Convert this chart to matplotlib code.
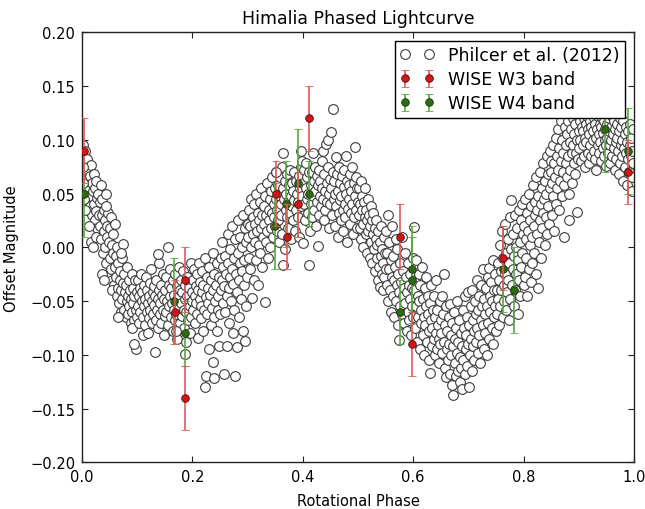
import matplotlib
matplotlib.use('Agg')
import matplotlib.pyplot as plt
import numpy as np

# Philcer et al. (2012) points as (phase, offset mag)
philcer = [
    (0.002,0.095),(0.003,0.080),(0.004,0.068),(0.005,0.058),(0.006,0.090),(0.007,0.072),(0.008,0.063),(0.009,0.050),(0.010,0.082),(0.011,0.045),
    (0.012,0.070),(0.013,0.056),(0.014,0.038),(0.015,0.066),(0.016,0.077),(0.017,0.048),(0.018,0.030),(0.019,0.060),(0.020,0.052),(0.021,0.068),
    (0.022,0.040),(0.023,0.025),(0.024,0.055),(0.025,0.034),(0.026,0.062),(0.027,0.046),(0.028,0.018),(0.029,0.050),(0.030,0.030),(0.003,0.045),
    (0.006,0.035),(0.012,0.020),(0.016,0.005),(0.020,0.000),(0.025,0.010),(0.001,0.060),(0.002,0.075),
    (0.032,0.042),(0.033,0.020),(0.034,0.058),(0.035,0.008),(0.036,0.030),(0.037,0.045),(0.038,-0.005),(0.039,0.015),(0.040,0.035),(0.041,0.025),
    (0.042,0.000),(0.043,0.050),(0.044,-0.015),(0.045,0.020),(0.046,0.010),(0.047,0.032),(0.048,-0.025),(0.049,0.005),(0.050,0.018),(0.051,-0.010),
    (0.052,0.028),(0.053,-0.020),(0.054,0.002),(0.055,-0.030),(0.056,0.012),(0.057,-0.005),(0.058,-0.035),(0.059,0.022),(0.060,-0.018),(0.036,-0.025),
    (0.044,0.038),(0.040,-0.030),(0.054,-0.040),
    (0.061,-0.008),(0.062,-0.028),(0.063,-0.045),(0.064,0.000),(0.065,-0.038),(0.066,-0.015),(0.067,-0.052),(0.068,-0.030),(0.069,-0.022),(0.070,-0.060),
    (0.071,-0.040),(0.072,-0.010),(0.073,-0.048),(0.074,-0.033),(0.075,0.003),(0.076,-0.058),(0.077,-0.025),(0.078,-0.042),(0.079,-0.065),(0.080,-0.035),
    (0.081,-0.050),(0.082,-0.018),(0.083,-0.045),(0.084,-0.062),(0.085,-0.030),(0.086,-0.055),(0.087,-0.040),(0.088,-0.070),(0.089,-0.048),(0.090,-0.025),
    (0.091,-0.060),(0.092,-0.038),(0.093,-0.052),(0.094,-0.068),(0.095,-0.045),(0.096,-0.030),(0.097,-0.058),(0.098,-0.095),(0.099,-0.042),(0.100,-0.065),
    (0.095,-0.090),(0.090,-0.075),(0.070,-0.005),(0.066,-0.065),
    (0.101,-0.030),(0.102,-0.055),(0.103,-0.045),(0.104,-0.070),(0.105,-0.038),(0.106,-0.060),(0.107,-0.025),(0.108,-0.050),(0.109,-0.042),(0.110,-0.065),
    (0.111,-0.082),(0.112,-0.035),(0.113,-0.055),(0.114,-0.048),(0.115,-0.072),(0.116,-0.028),(0.117,-0.060),(0.118,-0.040),(0.119,-0.052),(0.120,-0.080),
    (0.121,-0.045),(0.122,-0.066),(0.123,-0.033),(0.124,-0.058),(0.125,-0.020),(0.126,-0.050),(0.127,-0.070),(0.128,-0.042),(0.129,-0.062),(0.130,-0.036),
    (0.131,-0.054),(0.132,-0.097),(0.133,-0.045),(0.134,-0.068),(0.135,-0.030),(0.136,-0.058),(0.137,-0.048),(0.138,-0.075),(0.139,-0.040),(0.140,-0.015),
    (0.141,-0.062),(0.142,-0.052),(0.143,-0.035),(0.144,-0.070),(0.145,-0.044),(0.146,-0.025),(0.147,-0.058),(0.148,-0.082),(0.149,-0.048),(0.150,-0.064),
    (0.137,-0.006),(0.155,0.000),
    (0.151,-0.040),(0.152,-0.028),(0.153,-0.060),(0.154,-0.050),(0.156,-0.072),(0.157,-0.035),(0.158,-0.055),(0.159,-0.045),(0.160,-0.020),(0.161,-0.065),
    (0.162,-0.038),(0.163,-0.052),(0.164,-0.078),(0.165,-0.030),(0.166,-0.058),(0.167,-0.044),(0.168,-0.068),(0.169,-0.025),(0.170,-0.050),(0.171,-0.062),
    (0.172,-0.036),(0.173,-0.085),(0.174,-0.046),(0.175,-0.018),(0.176,-0.056),(0.177,-0.040),(0.178,-0.070),(0.179,-0.030),(0.180,-0.052),(0.181,-0.064),
    (0.182,-0.042),(0.183,-0.022),(0.184,-0.058),(0.185,-0.075),(0.186,-0.048),(0.187,-0.035),(0.188,-0.088),(0.189,-0.060),(0.190,-0.045),(0.191,-0.028),
    (0.192,-0.068),(0.193,-0.052),(0.194,-0.038),(0.195,-0.080),(0.196,-0.055),(0.197,-0.015),(0.198,-0.065),(0.199,-0.042),(0.200,-0.050),(0.186,-0.099),
    (0.170,-0.078),
    (0.201,-0.030),(0.202,-0.058),(0.203,-0.020),(0.204,-0.045),(0.205,-0.070),(0.206,-0.036),(0.207,-0.052),(0.208,-0.025),(0.209,-0.062),(0.210,-0.040),
    (0.211,-0.084),(0.212,-0.015),(0.213,-0.048),(0.214,-0.032),(0.215,-0.066),(0.216,-0.055),(0.217,-0.022),(0.218,-0.042),(0.219,-0.078),(0.220,-0.035),
    (0.221,-0.058),(0.222,-0.130),(0.223,-0.010),(0.224,-0.046),(0.225,-0.120),(0.226,-0.028),(0.227,-0.062),(0.228,-0.038),(0.229,-0.052),(0.230,-0.095),
    (0.231,-0.018),(0.232,-0.044),(0.233,-0.072),(0.234,-0.030),(0.240,-0.122),(0.236,-0.056),(0.237,-0.040),(0.238,-0.005),(0.239,-0.065),(0.240,-0.025),
    (0.241,-0.050),(0.237,-0.107),(0.243,-0.035),(0.244,-0.078),(0.245,-0.015),(0.246,-0.058),(0.247,-0.045),(0.248,-0.092),(0.249,-0.028),(0.250,-0.062),
    (0.251,-0.010),(0.252,-0.040),(0.253,0.005),(0.254,-0.030),(0.255,-0.052),(0.256,-0.018),(0.257,-0.118),(0.258,-0.036),(0.259,-0.008),(0.260,-0.060),
    (0.261,-0.025),(0.262,-0.092),(0.263,-0.045),(0.264,0.012),(0.265,-0.015),(0.266,-0.038),(0.267,-0.070),(0.268,-0.002),(0.269,-0.028),(0.270,-0.050),
    (0.271,0.020),(0.272,-0.020),(0.273,-0.080),(0.274,-0.034),(0.275,-0.010),(0.276,-0.058),(0.277,-0.120),(0.278,0.008),(0.279,-0.025),(0.280,-0.093),
    (0.281,-0.042),(0.282,-0.005),(0.283,0.025),(0.284,-0.030),(0.285,-0.065),(0.286,-0.015),(0.287,0.010),(0.288,-0.048),(0.289,-0.022),(0.290,0.000),
    (0.291,-0.078),(0.292,0.030),(0.293,-0.035),(0.294,-0.012),(0.295,0.018),(0.296,-0.087),(0.297,-0.055),(0.298,0.005),(0.299,-0.028),(0.300,0.022),
    (0.301,0.010),(0.302,-0.010),(0.303,0.035),(0.304,0.020),(0.305,-0.020),(0.306,0.045),(0.307,0.000),(0.308,-0.047),(0.309,0.028),(0.310,0.012),
    (0.311,-0.030),(0.312,0.040),(0.313,0.005),(0.314,0.022),(0.315,-0.012),(0.316,0.050),(0.317,0.015),(0.318,-0.035),(0.319,0.032),(0.320,0.002),
    (0.321,0.025),(0.322,0.042),(0.323,-0.005),(0.324,0.018),(0.325,0.055),(0.326,0.030),(0.327,-0.018),(0.328,0.010),(0.329,0.038),(0.330,0.022),
    (0.331,-0.051),(0.332,0.048),(0.333,0.005),(0.334,0.030),(0.335,0.015),(0.336,0.060),(0.337,-0.010),(0.338,0.035),(0.339,0.025),(0.340,0.045),
    (0.341,0.000),(0.342,0.052),(0.343,0.018),(0.344,0.032),(0.345,0.065),(0.346,0.010),(0.347,0.040),(0.348,0.028),(0.349,0.055),(0.350,0.020),
    (0.351,0.045),(0.352,0.070),(0.353,0.015),(0.354,0.035),(0.355,0.058),(0.356,0.025),(0.357,0.005),(0.358,0.048),(0.359,0.065),(0.360,0.030),
    (0.361,0.040),(0.362,0.012),(0.363,0.075),(0.364,0.055),(0.365,-0.016),(0.366,0.045),(0.367,0.062),(0.368,-0.002),(0.369,0.035),(0.370,0.050),
    (0.371,0.028),(0.372,0.068),(0.373,0.042),(0.374,0.018),(0.375,0.058),(0.376,0.032),(0.377,0.072),(0.378,0.048),(0.379,0.008),(0.380,0.038),
    (0.381,0.060),(0.382,0.025),(0.383,0.052),(0.384,0.044),(0.385,0.070),(0.386,0.015),(0.387,0.035),(0.388,0.062),(0.396,0.090),(0.390,0.050),
    (0.391,0.028),(0.392,0.042),(0.393,0.066),(0.394,0.010),(0.395,0.055),(0.396,0.038),(0.397,0.075),(0.398,0.080),(0.399,0.048),(0.400,0.004),
    (0.401,0.060),(0.402,0.040),(0.403,0.072),(0.404,0.025),(0.405,0.055),(0.406,0.078),(0.407,0.045),(0.408,0.065),(0.409,0.032),(0.410,0.050),
    (0.411,0.070),(0.412,-0.016),(0.413,0.015),(0.414,0.058),(0.415,0.040),(0.416,0.070),(0.417,0.028),(0.418,0.088),(0.419,0.048),(0.420,0.062),
    (0.421,0.035),(0.422,0.075),(0.423,0.052),(0.424,0.020),(0.425,0.066),(0.426,0.042),(0.427,0.001),(0.428,0.058),(0.429,0.030),(0.430,0.072),
    (0.431,0.048),(0.432,0.062),(0.433,0.038),(0.434,0.055),(0.435,0.080),(0.436,0.090),(0.437,0.045),(0.438,0.025),(0.439,0.068),(0.440,0.052),
    (0.441,0.035),(0.442,0.096),(0.443,0.060),(0.444,0.042),(0.445,0.100),(0.446,0.075),(0.447,0.050),(0.448,0.018),(0.449,0.064),(0.450,0.040),
    (0.451,0.107),(0.454,0.129),
    (0.452,0.055),(0.453,0.030),(0.455,0.070),(0.456,0.045),(0.457,0.062),(0.458,0.020),(0.459,0.050),(0.460,0.084),(0.461,0.038),(0.462,0.068),
    (0.463,0.010),(0.464,0.052),(0.465,0.032),(0.466,0.075),(0.467,0.044),(0.468,0.060),(0.469,0.025),(0.470,0.048),(0.471,0.066),(0.472,0.035),
    (0.473,0.015),(0.474,0.056),(0.475,0.072),(0.476,0.040),(0.477,0.028),(0.478,0.085),(0.479,0.050),(0.480,0.062),(0.481,0.005),(0.482,0.036),
    (0.483,0.058),(0.484,0.045),(0.485,0.022),(0.486,0.068),(0.487,0.032),(0.488,0.052),(0.489,0.040),(0.490,0.075),(0.491,0.012),(0.492,0.060),
    (0.493,0.028),(0.494,0.093),(0.495,0.048),(0.496,0.035),(0.497,0.065),(0.498,0.018),(0.499,0.055),(0.500,0.042),(0.352,0.070),(0.365,0.088),
    (0.501,0.030),(0.502,0.055),(0.503,0.018),(0.504,0.040),(0.505,0.062),(0.506,0.008),(0.507,0.035),(0.508,0.048),(0.509,0.022),(0.510,0.000),
    (0.511,0.042),(0.512,0.028),(0.513,0.055),(0.514,0.012),(0.515,0.035),(0.516,-0.005),(0.517,0.025),(0.518,0.045),(0.519,0.015),(0.520,0.030),
    (0.521,-0.010),(0.522,0.020),(0.523,0.038),(0.524,0.005),(0.525,0.025),(0.526,-0.015),(0.527,0.012),(0.528,0.032),(0.529,-0.002),(0.530,0.018),
    (0.531,-0.022),(0.532,0.008),(0.533,0.025),(0.534,-0.010),(0.535,0.002),(0.536,-0.030),(0.537,0.015),(0.538,-0.018),(0.539,-0.037),(0.540,0.005),
    (0.541,-0.008),(0.542,0.020),(0.543,-0.025),(0.544,-0.002),(0.545,-0.040),(0.546,-0.015),(0.547,0.010),(0.548,-0.028),(0.549,-0.005),(0.550,-0.020),
    (0.551,0.015),(0.552,-0.035),(0.553,-0.005),(0.554,0.030),(0.555,-0.050),(0.556,-0.020),(0.557,0.005),(0.558,-0.040),(0.559,-0.012),(0.560,-0.060),
    (0.561,-0.028),(0.562,0.020),(0.563,-0.045),(0.564,-0.008),(0.565,-0.030),(0.566,-0.065),(0.567,-0.018),(0.568,0.008),(0.569,-0.050),(0.570,-0.035),
    (0.571,-0.002),(0.572,-0.072),(0.573,-0.025),(0.574,-0.042),(0.575,-0.086),(0.576,-0.015),(0.577,-0.055),(0.578,-0.032),(0.579,0.010),(0.580,-0.062),
    (0.581,-0.045),(0.582,-0.022),(0.583,-0.070),(0.584,-0.038),(0.585,-0.005),(0.586,-0.052),(0.587,-0.028),(0.588,-0.078),(0.589,-0.042),(0.590,-0.015),
    (0.591,-0.060),(0.592,-0.035),(0.593,-0.068),(0.594,-0.048),(0.595,-0.025),(0.596,-0.082),(0.597,-0.055),(0.598,-0.038),(0.599,-0.010),(0.600,-0.065),
    (0.601,-0.040),(0.602,0.019),(0.603,-0.075),(0.604,-0.030),(0.605,-0.055),(0.606,-0.012),(0.607,-0.088),(0.608,-0.045),(0.609,-0.065),(0.610,-0.025),
    (0.611,-0.050),(0.612,-0.095),(0.613,-0.035),(0.614,-0.070),(0.615,-0.058),(0.616,-0.018),(0.617,-0.082),(0.618,-0.048),(0.619,-0.065),(0.620,-0.100),
    (0.621,-0.038),(0.622,-0.072),(0.623,-0.055),(0.624,-0.028),(0.625,-0.088),(0.626,-0.062),(0.627,-0.045),(0.628,-0.078),(0.629,-0.105),(0.630,-0.117),
    (0.631,-0.052),(0.632,-0.068),(0.633,-0.035),(0.634,-0.092),(0.635,-0.075),(0.636,-0.058),(0.637,-0.085),(0.638,-0.045),(0.639,-0.100),(0.640,-0.065),
    (0.641,-0.080),(0.642,-0.030),(0.643,-0.095),(0.644,-0.058),(0.645,-0.072),(0.646,-0.108),(0.647,-0.085),(0.648,-0.050),(0.649,-0.090),(0.650,-0.068),
    (0.651,-0.080),(0.652,-0.045),(0.653,-0.098),(0.654,-0.062),(0.655,-0.025),(0.656,-0.088),(0.657,-0.112),(0.658,-0.072),(0.659,-0.055),(0.660,-0.121),
    (0.661,-0.095),(0.662,-0.078),(0.663,-0.105),(0.664,-0.065),(0.665,-0.090),(0.666,-0.118),(0.667,-0.053),(0.668,-0.082),(0.669,-0.100),(0.670,-0.070),
    (0.671,-0.128),(0.672,-0.092),(0.673,-0.137),(0.674,-0.060),(0.675,-0.108),(0.676,-0.085),(0.677,-0.120),(0.678,-0.075),(0.679,-0.098),(0.680,-0.050),
    (0.681,-0.115),(0.682,-0.088),(0.683,-0.068),(0.684,-0.125),(0.685,-0.102),(0.686,-0.080),(0.687,-0.112),(0.688,-0.132),(0.689,-0.092),(0.690,-0.058),
    (0.691,-0.105),(0.692,-0.075),(0.693,-0.118),(0.694,-0.045),(0.695,-0.095),(0.696,-0.082),(0.697,-0.110),(0.698,-0.065),(0.699,-0.042),(0.700,-0.090),
    (0.701,-0.130),(0.702,-0.072),(0.703,-0.100),(0.704,-0.055),(0.705,-0.085),(0.706,-0.115),(0.707,-0.040),(0.708,-0.068),(0.709,-0.092),(0.710,-0.078),
    (0.711,-0.105),(0.712,-0.050),(0.713,-0.062),(0.714,-0.088),(0.715,-0.030),(0.716,-0.075),(0.717,-0.098),(0.718,-0.058),(0.719,-0.082),(0.720,-0.045),
    (0.721,-0.108),(0.722,-0.068),(0.723,-0.035),(0.724,-0.090),(0.725,-0.055),(0.726,-0.072),(0.727,-0.020),(0.728,-0.095),(0.729,-0.048),(0.730,-0.062),
    (0.731,-0.080),(0.732,-0.038),(0.733,-0.100),(0.734,-0.055),(0.735,-0.070),(0.736,-0.028),(0.737,-0.019),(0.738,-0.085),(0.739,-0.045),(0.740,-0.060),
    (0.741,-0.032),(0.742,-0.075),(0.743,-0.050),(0.744,-0.012),(0.745,-0.090),(0.746,-0.040),(0.747,-0.065),(0.748,-0.025),(0.749,-0.055),(0.750,-0.078),
    (0.751,-0.040),(0.752,-0.062),(0.753,-0.015),(0.754,-0.048),(0.755,-0.030),(0.756,-0.072),(0.757,0.002),(0.758,-0.055),(0.759,-0.022),(0.760,-0.040),
    (0.761,0.015),(0.762,-0.065),(0.763,-0.010),(0.764,-0.035),(0.765,-0.050),(0.766,0.022),(0.767,-0.025),(0.768,-0.058),(0.769,-0.005),(0.770,-0.042),
    (0.771,0.008),(0.772,-0.030),(0.773,-0.068),(0.774,-0.015),(0.775,0.028),(0.776,-0.048),(0.777,-0.002),(0.778,0.044),(0.779,-0.035),(0.780,-0.020),
    (0.781,0.012),(0.782,-0.055),(0.783,-0.008),(0.784,0.030),(0.785,-0.040),(0.786,0.000),(0.787,-0.025),(0.788,0.018),(0.789,-0.062),(0.790,-0.012),
    (0.791,0.035),(0.792,-0.030),(0.793,0.005),(0.794,-0.045),(0.795,0.025),(0.796,-0.018),(0.797,0.040),(0.798,-0.005),(0.799,0.012),(0.800,-0.035),
    (0.801,0.020),(0.802,-0.028),(0.803,0.045),(0.804,-0.010),(0.805,0.008),(0.806,0.032),(0.807,-0.045),(0.808,0.015),(0.809,-0.020),(0.810,0.050),
    (0.811,0.002),(0.812,0.025),(0.813,-0.032),(0.814,0.038),(0.815,0.010),(0.816,-0.015),(0.817,0.058),(0.818,0.020),(0.819,-0.005),(0.820,0.042),
    (0.821,0.030),(0.822,-0.025),(0.823,0.065),(0.824,0.012),(0.825,0.035),(0.826,-0.038),(0.827,0.048),(0.828,0.005),(0.829,0.025),(0.830,0.070),
    (0.831,0.040),(0.832,-0.010),(0.833,0.055),(0.834,0.018),(0.835,0.032),(0.836,0.078),(0.837,0.045),(0.838,0.002),(0.839,0.062),(0.840,0.028),
    (0.841,0.050),(0.842,0.012),(0.843,0.085),(0.844,0.038),(0.845,0.068),(0.846,0.022),(0.847,0.055),(0.848,0.090),(0.849,0.080),(0.850,0.070),
    (0.851,0.030),(0.852,0.060),(0.853,0.095),(0.854,0.048),(0.855,0.078),(0.856,0.015),(0.857,0.065),(0.858,0.102),(0.859,0.040),(0.860,0.085),
    (0.861,0.055),(0.862,0.110),(0.863,0.072),(0.864,0.035),(0.865,0.092),(0.866,0.062),(0.867,0.118),(0.868,0.080),(0.869,0.048),(0.870,0.100),
    (0.871,0.070),(0.872,0.088),(0.873,0.058),(0.874,0.010),(0.875,0.112),(0.876,0.078),(0.877,0.095),(0.878,0.065),(0.879,0.105),(0.880,0.085),
    (0.881,0.118),(0.882,0.050),(0.883,0.025),(0.884,0.098),(0.885,0.072),(0.886,0.110),(0.887,0.088),(0.888,0.060),(0.889,0.120),(0.890,0.095),
    (0.891,0.078),(0.892,0.105),(0.893,0.068),(0.894,0.115),(0.895,0.088),(0.896,0.033),(0.897,0.100),(0.898,0.122),(0.899,0.082),(0.900,0.108),
    (0.901,0.092),(0.902,0.118),(0.903,0.100),(0.904,0.080),(0.905,0.112),(0.906,0.125),(0.907,0.095),(0.908,0.108),(0.909,0.085),(0.910,0.120),
    (0.911,0.102),(0.912,0.075),(0.913,0.115),(0.914,0.098),(0.915,0.122),(0.916,0.088),(0.917,0.110),(0.918,0.105),(0.919,0.078),(0.920,0.118),
    (0.921,0.095),(0.922,0.112),(0.923,0.085),(0.924,0.125),(0.925,0.100),(0.926,0.108),(0.927,0.090),(0.928,0.120),(0.929,0.082),(0.930,0.115),
    (0.931,0.102),(0.932,0.072),(0.933,0.110),(0.934,0.095),(0.935,0.122),(0.936,0.088),(0.937,0.105),(0.938,0.115),(0.939,0.098),(0.940,0.080),
    (0.941,0.112),(0.942,0.120),(0.943,0.092),(0.944,0.106),(0.945,0.085),(0.946,0.118),(0.947,0.100),(0.948,0.110),(0.949,0.076),(0.950,0.095),
    (0.951,0.115),(0.952,0.102),(0.953,0.088),(0.954,0.120),(0.955,0.108),(0.956,0.095),(0.957,0.078),(0.958,0.112),(0.959,0.100),(0.960,0.122),
    (0.961,0.085),(0.962,0.105),(0.963,0.092),(0.964,0.118),(0.965,0.072),(0.966,0.110),(0.967,0.098),(0.968,0.082),(0.969,0.115),(0.970,0.102),
    (0.971,0.090),(0.972,0.068),(0.973,0.108),(0.974,0.120),(0.975,0.078),(0.976,0.095),(0.977,0.112),(0.978,0.085),(0.979,0.100),(0.980,0.062),
    (0.981,0.118),(0.982,0.092),(0.983,0.075),(0.984,0.105),(0.985,0.088),(0.986,0.112),(0.987,0.058),(0.988,0.098),(0.989,0.082),(0.990,0.108),
    (0.991,0.070),(0.992,0.095),(0.993,0.115),(0.994,0.085),(0.995,0.102),(0.996,0.065),(0.997,0.090),(0.998,0.110),(0.999,0.078),(0.996,0.052),
]
phase = np.array([p[0] for p in philcer])
mag = np.array([p[1] for p in philcer])

# WISE W3 band
w3_phase = [0.003, 0.168, 0.186, 0.186, 0.352, 0.372, 0.392, 0.412, 0.577, 0.597, 0.763, 0.989]
w3_mag   = [0.09, -0.06, -0.03, -0.14, 0.05, 0.01, 0.04, 0.12, 0.01, -0.09, -0.01, 0.07]
w3_err   = [0.03, 0.03, 0.03, 0.03, 0.03, 0.03, 0.03, 0.03, 0.03, 0.03, 0.03, 0.03]

# WISE W4 band
w4_phase = [0.003, 0.166, 0.186, 0.350, 0.370, 0.392, 0.412, 0.577, 0.597, 0.597, 0.763, 0.783, 0.947, 0.989]
w4_mag   = [0.05, -0.05, -0.08, 0.02, 0.04, 0.06, 0.05, -0.06, -0.02, -0.03, -0.02, -0.04, 0.11, 0.09]
w4_err   = [0.04, 0.04, 0.03, 0.04, 0.04, 0.05, 0.03, 0.03, 0.04, 0.04, 0.04, 0.04, 0.04, 0.04]

plt.rcParams['font.family'] = 'DejaVu Sans'
plt.rcParams['xtick.direction'] = 'in'
plt.rcParams['ytick.direction'] = 'in'
plt.rcParams['xtick.top'] = True
plt.rcParams['ytick.right'] = True

fig = plt.figure(figsize=(6.45, 5.10), dpi=100)
ax = fig.add_axes([0.1271, 0.0915, 0.8558, 0.8431])

ax.plot(phase, mag, 'o', ls='none', ms=7, mfc='white', mec='#3c3c3c', mew=0.8,
        label='Philcer et al. (2012)', zorder=2)
ax.errorbar(w3_phase, w3_mag, yerr=w3_err, fmt='o', ms=5.5, mfc='#d41515', mec='#4a1010',
            mew=0.6, ecolor='#e05a5a', elinewidth=1.2, capsize=3, capthick=1.0,
            label='WISE W3 band', zorder=4)
ax.errorbar(w4_phase, w4_mag, yerr=w4_err, fmt='o', ms=5.5, mfc='#2f6a12', mec='#1c3a0c',
            mew=0.6, ecolor='#5aa840', elinewidth=1.2, capsize=3, capthick=1.0,
            label='WISE W4 band', zorder=3)

ax.set_xlim(0, 1)
ax.set_ylim(-0.2, 0.2)
ax.set_xticks([0.0, 0.2, 0.4, 0.6, 0.8, 1.0])
ax.set_yticks([-0.20, -0.15, -0.10, -0.05, 0.00, 0.05, 0.10, 0.15, 0.20])
ax.set_xticklabels(['0.0', '0.2', '0.4', '0.6', '0.8', '1.0'])
ax.set_yticklabels(['\u22120.20', '\u22120.15', '\u22120.10', '\u22120.05', '0.00',
                    '0.05', '0.10', '0.15', '0.20'])
ax.tick_params(length=4.5, width=0.8, labelsize=10.5, pad=5, color='#222222')
for s in ax.spines.values():
    s.set_linewidth(1.0)
    s.set_color('#222222')

ax.set_title('Himalia Phased Lightcurve', fontsize=12.5, pad=7)
ax.set_xlabel('Rotational Phase', fontsize=10.5, labelpad=6)
ax.set_ylabel('Offset Magnitude', fontsize=10.5, labelpad=8)

leg = ax.legend(loc='upper right', numpoints=2, fontsize=12.5, fancybox=False,
                framealpha=1, edgecolor='black', labelspacing=0.35, borderpad=0.3,
                handletextpad=0.8, borderaxespad=0.5)
leg.get_frame().set_linewidth(1.0)

fig.savefig('out.png', dpi=100)
